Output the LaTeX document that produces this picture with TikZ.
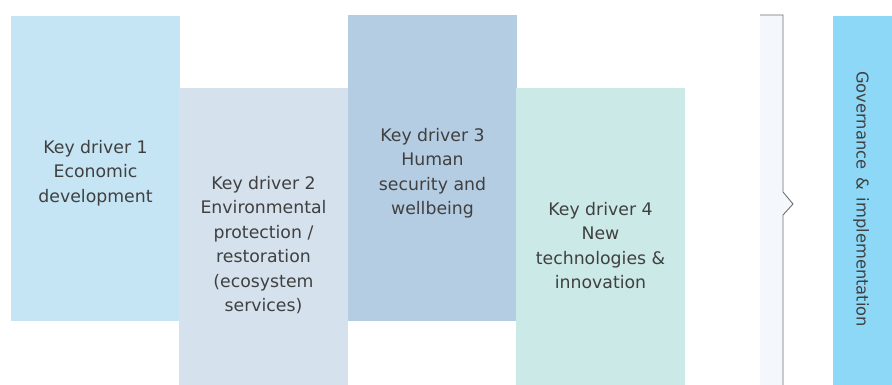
\documentclass[tikz,border=0pt]{standalone}
\usepackage{fontspec}
\setmainfont{DejaVu Sans}
\definecolor{txt}{HTML}{404040}
\definecolor{cA}{HTML}{C5E5F5}
\definecolor{cB}{HTML}{D5E1ED}
\definecolor{cC}{HTML}{B5CDE2}
\definecolor{cD}{HTML}{CBE9E7}
\definecolor{cG}{HTML}{8DD8F6}
\definecolor{cBr}{HTML}{F4F7FB}
\definecolor{cLine}{HTML}{6F6F6F}
\tikzset{
  box/.style={inner sep=0pt, outer sep=0pt, anchor=north west, draw=none},
  lbl/.style={text=txt, align=center, inner sep=0pt, font=\fontsize{17.3}{24.5}\selectfont},
}
\begin{document}
\begin{tikzpicture}[x=1pt,y=-1pt]
\useasboundingbox (0,0) rectangle (892,385);
\node[box, fill=cA, minimum width=169pt, minimum height=305pt] (b1) at (11,16) {};
\node[box, fill=cB, minimum width=169pt, minimum height=297pt] (b2) at (179,88) {};
\node[box, fill=cC, minimum width=169pt, minimum height=306pt] (b3) at (348,15) {};
\node[box, fill=cD, minimum width=169pt, minimum height=297pt] (b4) at (516,88) {};
\node[lbl] (t1) at (95.5,173) {Key driver 1\\Economic\\development};
\node[lbl] (t2) at (263.5,245) {Key driver 2\\Environmental\\protection /\\restoration\\(ecosystem\\services)};
\node[lbl] (t3) at (432.5,173) {Key driver 3\\Human\\security and\\wellbeing};
\node[lbl] (t4) at (600.5,245.5) {Key driver 4\\New\\technologies \&\\innovation};
% brace
\coordinate (brTL) at (760,15);
\coordinate (brTR) at (783,15);
\coordinate (brN1) at (783,192);
\coordinate (brTip) at (793,204);
\coordinate (brN2) at (783,215);
\coordinate (brBR) at (783,385);
\coordinate (brBL) at (760,385);
\fill[cBr] (brTL) -- (brTR) -- (brN1) -- (brTip) -- (brN2) -- (brBR) -- (brBL) -- cycle;
\draw[cLine, line width=0.9pt] (brTL) -- (brTR) -- (brN1) -- (brTip) -- (brN2) -- (brBR);
% governance
\node[box, fill=cG, minimum width=59pt, minimum height=369pt] (g) at (833,16) {};
\node[lbl, rotate=-90, font=\fontsize{16.3}{20}\selectfont] (tg) at (861,199) {Governance \,\&\, implementation};
\end{tikzpicture}
\end{document}
